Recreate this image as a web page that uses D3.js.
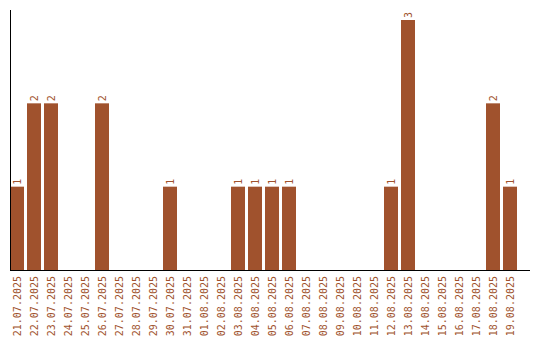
<html>
    <head>
        <script src="https://cdn.jsdelivr.net/npm/d3@7"></script>
        <style>
            body { margin: 0; background: #fff; }
            text { font-family: "DejaVu Sans Mono", monospace; font-size: 10px; fill: #a0522d; }
        </style>
    </head>
    <body>
        <svg id="chart"></svg>
    </body>
    <script>
        const WIDTH = 540
        const HEIGHT = 340

        const dates = ["21.07.2025","22.07.2025","23.07.2025","24.07.2025","25.07.2025","26.07.2025",
            "27.07.2025","28.07.2025","29.07.2025","30.07.2025","31.07.2025","01.08.2025","02.08.2025",
            "03.08.2025","04.08.2025","05.08.2025","06.08.2025","07.08.2025","08.08.2025","09.08.2025",
            "10.08.2025","11.08.2025","12.08.2025","13.08.2025","14.08.2025","15.08.2025","16.08.2025",
            "17.08.2025","18.08.2025","19.08.2025"]
        const counts = [1,2,2,0,0,2,0,0,0,1,0,0,0,1,1,1,1,0,0,0,0,0,1,3,0,0,0,0,2,1]

        const svg = d3.select("#chart").attr("width", WIDTH).attr("height", HEIGHT)

        const x = d3.scaleBand()
            .domain(dates)
            .range([10, 517])
            .paddingInner(3 / 17)
            .paddingOuter(0)

        const y = d3.scaleLinear()
            .domain([0, 3])
            .range([270, 20])

        const data = dates.map((d, i) => ({date: d, value: counts[i]}))

        // bars
        svg.append("g")
            .selectAll("rect")
            .data(data.filter(d => d.value > 0))
            .enter()
            .append("rect")
                .attr("x", d => x(d.date))
                .attr("y", d => y(d.value))
                .attr("width", x.bandwidth())
                .attr("height", d => y(0) - y(d.value))
                .attr("fill", "#a0522d")

        // value labels
        svg.append("g")
            .selectAll("text")
            .data(data.filter(d => d.value > 0))
            .enter()
            .append("text")
                .attr("transform", d => `translate(${x(d.date) + x.bandwidth() / 2 + 3.5},${y(d.value) - 2}) rotate(-90)`)
                .attr("text-anchor", "start")
                .text(d => d.value)

        // date labels
        svg.append("g")
            .selectAll("text")
            .data(dates)
            .enter()
            .append("text")
                .attr("transform", d => `translate(${x(d) + x.bandwidth() / 2 + 3.5},276) rotate(-90)`)
                .attr("text-anchor", "end")
                .text(d => d)

        // axis lines
        svg.append("line")
            .attr("x1", 10.5).attr("x2", 10.5)
            .attr("y1", 10).attr("y2", 270)
            .attr("stroke", "black")
        svg.append("line")
            .attr("x1", 10).attr("x2", 530)
            .attr("y1", 270.5).attr("y2", 270.5)
            .attr("stroke", "black")
    </script>
</html>
